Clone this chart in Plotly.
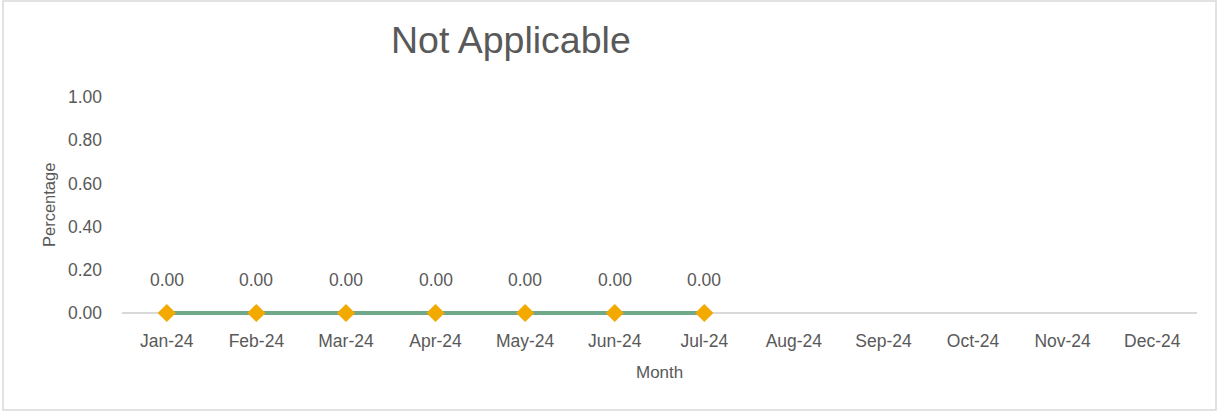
import plotly.graph_objects as go

months = ["Jan-24", "Feb-24", "Mar-24", "Apr-24", "May-24", "Jun-24",
          "Jul-24", "Aug-24", "Sep-24", "Oct-24", "Nov-24", "Dec-24"]
values = [0.0, 0.0, 0.0, 0.0, 0.0, 0.0, 0.0]
y_ticks = [0.0, 0.2, 0.4, 0.6, 0.8, 1.0]

W, H = 1219, 414
L, R, T, B = 122, 22, 97, 93
pw, ph = W - L - R, H - T - B
ymin = -1 / 27

font = "Liberation Sans, Arial, sans-serif"
grey = "#595959"
small = 17.5


def px(x):
    return (x - L) / pw


def py(y):
    return (H - B - y) / ph


fig = go.Figure()
fig.add_trace(go.Scatter(
    x=months[:len(values)], y=values, mode="lines+markers",
    line=dict(color="#70A88A", width=4),
    marker=dict(symbol="diamond", size=14, color="#F2A900",
                line=dict(width=0)),
    showlegend=False, hoverinfo="skip", cliponaxis=False,
))

annotations = [
    dict(x=m, y=v, text=f"{v:.2f}", showarrow=False, yshift=33,
         font=dict(family=font, size=small, color=grey), xref="x", yref="y")
    for m, v in zip(months, values)
]
annotations.append(dict(
    x=px(510.5), y=py(40), xref="paper", yref="paper",
    text="Not Applicable", showarrow=False,
    font=dict(family=font, size=37.5, color=grey),
    xanchor="center", yanchor="middle",
))
annotations.append(dict(
    x=px(49), y=py(205), xref="paper", yref="paper",
    text="Percentage", textangle=-90, showarrow=False,
    font=dict(family=font, size=16.5, color=grey),
    xanchor="center", yanchor="middle",
))
annotations.append(dict(
    x=px(659.5), y=py(372), xref="paper", yref="paper",
    text="Month", showarrow=False,
    font=dict(family=font, size=17, color=grey),
    xanchor="center", yanchor="middle",
))

fig.update_layout(
    width=W, height=H,
    margin=dict(l=L, r=R, t=T, b=B),
    paper_bgcolor="white", plot_bgcolor="white",
    font=dict(family=font, size=16, color=grey),
    annotations=annotations,
    shapes=[dict(type="rect", xref="paper", yref="paper",
                 x0=px(3), x1=px(1216), y0=py(410), y1=py(1),
                 line=dict(color="#D9D9D9", width=1.5), layer="below")],
    xaxis=dict(categoryorder="array", categoryarray=months,
               tickmode="array", tickvals=months, ticktext=months,
               range=[-0.5, 11.5], showgrid=False, zeroline=False,
               showline=False, ticks="", ticklabelstandoff=7,
               tickfont=dict(family=font, size=small, color=grey)),
    yaxis=dict(range=[ymin, 1], tickvals=y_ticks, tickformat=".2f",
               showgrid=False, zeroline=True, zerolinecolor="#D9D9D9",
               zerolinewidth=1.5, showline=False, ticks="",
               ticklabelstandoff=19,
               tickfont=dict(family=font, size=small, color=grey)),
)

fig.write_html("out.html", config={"displayModeBar": False},
               post_script="document.body.style.margin='0';")
